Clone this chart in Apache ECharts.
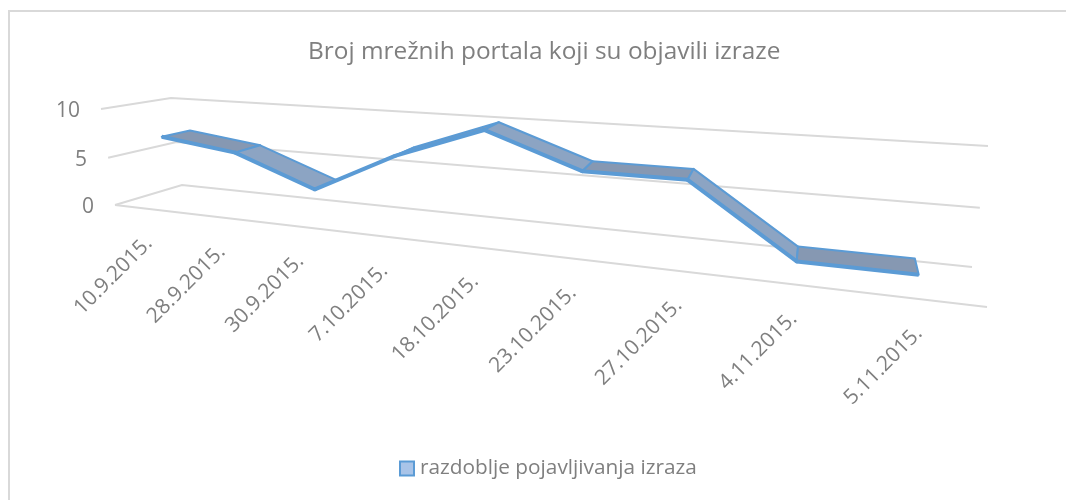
<!DOCTYPE html>
<html>
<head>
<meta charset="utf-8">
<style>html,body{margin:0;padding:0;background:#fff}#main{width:1066px;height:500px}</style>
<script src="https://cdn.jsdelivr.net/npm/echarts@6/dist/echarts.min.js"></script>
</head>
<body>
<div id="main"></div>
<script>
var categories = ['10.9.2015.','28.9.2015.','30.9.2015.','7.10.2015.','18.10.2015.','23.10.2015.','27.10.2015.','4.11.2015.','5.11.2015.'];
var values = [7,6,3,7,10,7,7,1,1];
var yTicks = [0,5,10];
var seriesName = 'razdoblje pojavljivanja izraza';
var textColor = '#7f7f7f';
var fontName = '"Open Sans"';

// maps the unit square on a quad: p0 (0,0), p1 (1,0), p2 (1,1), p3 (0,1)
function quad(p0,p1,p2,p3){
    var dx1=p1[0]-p2[0],dx2=p3[0]-p2[0],sx=p0[0]-p1[0]+p2[0]-p3[0];
    var dy1=p1[1]-p2[1],dy2=p3[1]-p2[1],sy=p0[1]-p1[1]+p2[1]-p3[1];
    var det=dx1*dy2-dx2*dy1;
    var g=(sx*dy2-dx2*sy)/det,h=(dx1*sy-sx*dy1)/det;
    var a=p1[0]-p0[0]+g*p1[0],b=p3[0]-p0[0]+h*p3[0];
    var d=p1[1]-p0[1]+g*p1[1],e=p3[1]-p0[1]+h*p3[1];
    return function(u,v){
        var k=g*u+h*v+1;
        return [(a*u+b*v+p0[0])/k,(d*u+e*v+p0[1])/k];
    };
}
// the 3d box of the excel chart, front plane and back wall
var frontPlane = quad([115,205],[987,307],[1007,174],[101,109]);
var backPlane = quad([182,185],[972,267],[988,146],[171,98]);
function project(u,w,z){
    var f=frontPlane(u,w),b=backPlane(u,w);
    return [f[0]+(b[0]-f[0])*z,f[1]+(b[1]-f[1])*z];
}
// plane position from the pixel the axes give
function toPlane(params,pt){
    var c=params.coordSys;
    return [(pt[0]-c.x)/c.width,(c.y+c.height-pt[1])/c.height];
}
var ribbonFront=0.32,ribbonBack=0.75;

function renderGrid(params,api){
    var p=toPlane(params,api.coord([0,api.value(1)]));
    var w=p[1];
    var lineStyle={stroke:'#d9d9d9',lineWidth:2,fill:null};
    var kids=[{type:'polyline',shape:{points:[project(0,w,0),project(0,w,1),project(1,w,1)]},style:lineStyle}];
    if(api.value(1)===0){
        kids.push({type:'line',shape:{x1:project(0,0,0)[0],y1:project(0,0,0)[1],x2:project(1,0,0)[0],y2:project(1,0,0)[1]},style:lineStyle});
    }
    var lp=project(0,w,0);
    kids.push({type:'text',x:lp[0]-21,y:lp[1]+2.5,style:{text:String(api.value(1)),align:'right',verticalAlign:'middle',fill:textColor,font:'21px '+fontName}});
    return {type:'group',children:kids};
}
function renderCategory(params,api){
    var i=params.dataIndex;
    var p=toPlane(params,api.coord([i,0]));
    var f=project(p[0],0,0);
    return {type:'text',x:f[0]-1,y:f[1]+31,rotation:Math.PI/4,
        style:{text:categories[i],align:'right',verticalAlign:'middle',fill:textColor,font:'21px '+fontName}};
}
function renderRibbon(params,api){
    var i=params.dataIndex;
    if(i>=values.length-1) return null;
    var a=toPlane(params,api.coord([i,api.value(1,i)]));
    var b=toPlane(params,api.coord([i+1,api.value(1,i+1)]));
    var a0=project(a[0],a[1],ribbonFront),a1=project(a[0],a[1],ribbonBack);
    var b0=project(b[0],b[1],ribbonFront),b1=project(b[0],b[1],ribbonBack);
    var drop=api.value(1,i)-api.value(1,i+1);
    var fill=drop>=2?'#8ca4c3':'#8698b2';
    var kids=[
        {type:'polygon',shape:{points:[a0,a1,b1,b0]},style:{fill:fill,stroke:'#5b9bd5',lineWidth:2,lineJoin:'round'}},
        {type:'line',shape:{x1:a0[0],y1:a0[1],x2:b0[0],y2:b0[1]},style:{stroke:'#5b9bd5',lineWidth:4,lineCap:'butt'}}
    ];
    if(i<values.length-2){
        kids.push({type:'circle',shape:{cx:b0[0],cy:b0[1],r:2},style:{fill:'#5b9bd5'}});
    }
    return {type:'group',children:kids};
}

var chart = echarts.init(document.getElementById('main'));
chart.setOption({
    animation:false,
    graphic:[
        {type:'line',shape:{x1:8,y1:11,x2:1066,y2:11},style:{stroke:'#d9d9d9',lineWidth:2},silent:true},
        {type:'line',shape:{x1:9,y1:10,x2:9,y2:500},style:{stroke:'#d9d9d9',lineWidth:2},silent:true}
    ],
    title:{text:'Broj mrežnih portala koji su objavili izraze',left:308,top:40,padding:0,
        textStyle:{color:textColor,fontFamily:fontName,fontWeight:'normal',fontSize:24.4}},
    legend:{data:[{name:seriesName,icon:'rect',itemStyle:{color:'#a9c4e8',borderColor:'#5b9bd5',borderWidth:2}}],
        left:399,top:458,padding:0,itemWidth:14,itemHeight:14,itemGap:6,
        textStyle:{color:textColor,fontFamily:fontName,fontSize:20.8,padding:[0,0,0,1]}},
    grid:{left:115,width:872,top:109,height:96},
    xAxis:{type:'category',data:categories,show:false},
    yAxis:{type:'value',min:0,max:10,interval:5,show:false},
    series:[
        {type:'custom',name:'grid',silent:true,clip:false,renderItem:renderGrid,data:yTicks.map(function(v){return [0,v];})},
        {type:'custom',name:'kategorije',silent:true,clip:false,renderItem:renderCategory,data:categories.map(function(c,i){return [i,0];})},
        {type:'custom',name:seriesName,silent:true,clip:false,renderItem:renderRibbon,itemStyle:{color:'#a9c4e8'},
            encode:{x:0,y:1},data:values.map(function(v,i){return [i,v];})}
    ]
});
</script>
</body>
</html>
